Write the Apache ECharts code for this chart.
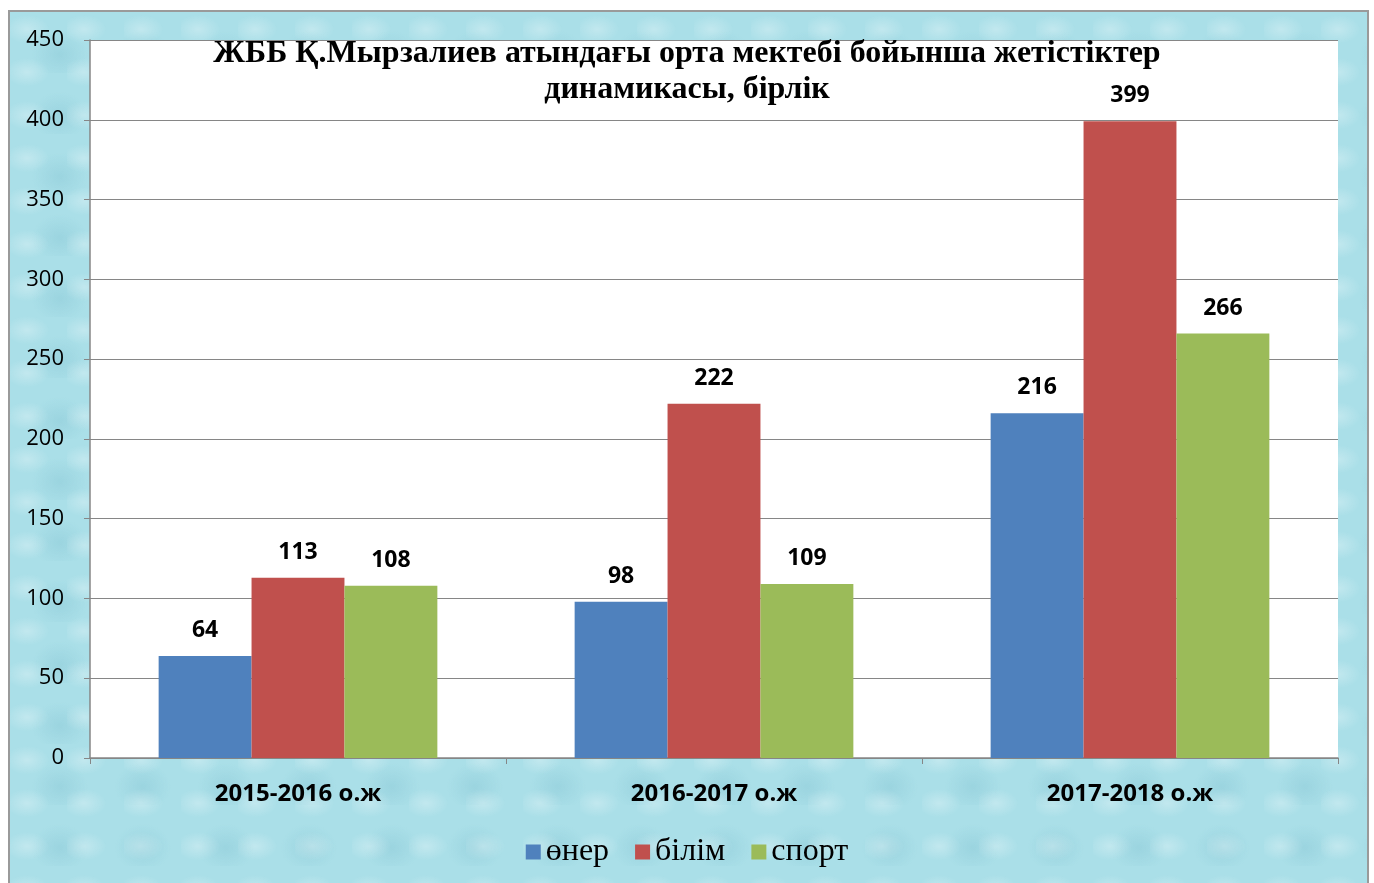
<!DOCTYPE html>
<html><head><meta charset="utf-8">
<script src="https://cdn.jsdelivr.net/npm/echarts@6/dist/echarts.min.js"></script>
<style>
html,body{margin:0;padding:0;background:#fff;width:1374px;height:883px;overflow:hidden;}
#bg{position:absolute;left:8px;top:10px;width:1357px;height:880px;border:2px solid #9a9a9a;
background-color:#aadfe8;
background-image:
radial-gradient(ellipse at 30% 40%, rgba(255,255,255,0.28) 0, rgba(255,255,255,0) 22px),
radial-gradient(ellipse at 60% 70%, rgba(110,180,198,0.25) 0, rgba(110,180,198,0) 28px);
background-size:57px 43px,83px 61px;}
#c{position:absolute;left:0;top:0;width:1374px;height:883px;}
</style></head>
<body><div id="bg"></div><div id="c"></div>
<script>
const categories = ['2015-2016 о.ж', '2016-2017 о.ж', '2017-2018 о.ж'];
const onerValues = [64, 98, 216];
const bilimValues = [113, 222, 399];
const sportValues = [108, 109, 266];
const seriesNames = ['өнер', 'білім', 'спорт'];
const yTicks = {min: 0, max: 450, interval: 50};

const chart = echarts.init(document.getElementById('c'), null, {renderer: 'canvas'});
const labelCfg = {show: true, position: 'top', distance: 14, fontFamily: 'Open Sans', fontWeight: 'bold', fontSize: 23, color: '#000'};
chart.setOption({
  animation: false,
  backgroundColor: 'transparent',
  title: {
    text: 'ЖББ Қ.Мырзалиев атындағы орта мектебі бойынша жетістіктер\nдинамикасы, бірлік',
    left: 'center', top: 31,
    textStyle: {fontFamily: 'Liberation Serif', fontWeight: 'bold', fontSize: 32, color: '#000', lineHeight: 36}
  },
  legend: {
    bottom: 10, left: 'center', itemWidth: 15, itemHeight: 15, itemGap: 26, icon: 'rect',
    textStyle: {fontFamily: 'Liberation Serif', fontSize: 32, color: '#000'},
    data: seriesNames
  },
  grid: {left: 90, right: 36, top: 40, bottom: 125, backgroundColor: '#fff', show: true, borderWidth: 0},
  xAxis: {
    type: 'category', data: categories,
    axisLine: {lineStyle: {color: '#868686', width: 1.5}},
    axisTick: {show: true, length: 6, lineStyle: {color: '#868686'}},
    axisLabel: {margin: 24, fontFamily: 'Open Sans', fontWeight: 'bold', fontSize: 24, color: '#000'}
  },
  yAxis: {
    type: 'value', min: yTicks.min, max: yTicks.max, interval: yTicks.interval,
    axisLine: {show: true, lineStyle: {color: '#868686', width: 1.5}},
    axisTick: {show: true, length: 6, lineStyle: {color: '#868686'}},
    splitLine: {lineStyle: {color: '#868686', width: 1}},
    axisLabel: {margin: 26, fontFamily: 'Open Sans', fontSize: 22, color: '#000'}
  },
  series: [
    {name: seriesNames[0], type: 'bar', data: onerValues, itemStyle: {color: '#4f81bd'}, barGap: '0%', barCategoryGap: '33%', label: labelCfg},
    {name: seriesNames[1], type: 'bar', data: bilimValues, itemStyle: {color: '#c0504d'}, barGap: '0%', barCategoryGap: '33%', label: labelCfg},
    {name: seriesNames[2], type: 'bar', data: sportValues, itemStyle: {color: '#9bbb59'}, barGap: '0%', barCategoryGap: '33%', label: labelCfg}
  ]
});
</script></body></html>
